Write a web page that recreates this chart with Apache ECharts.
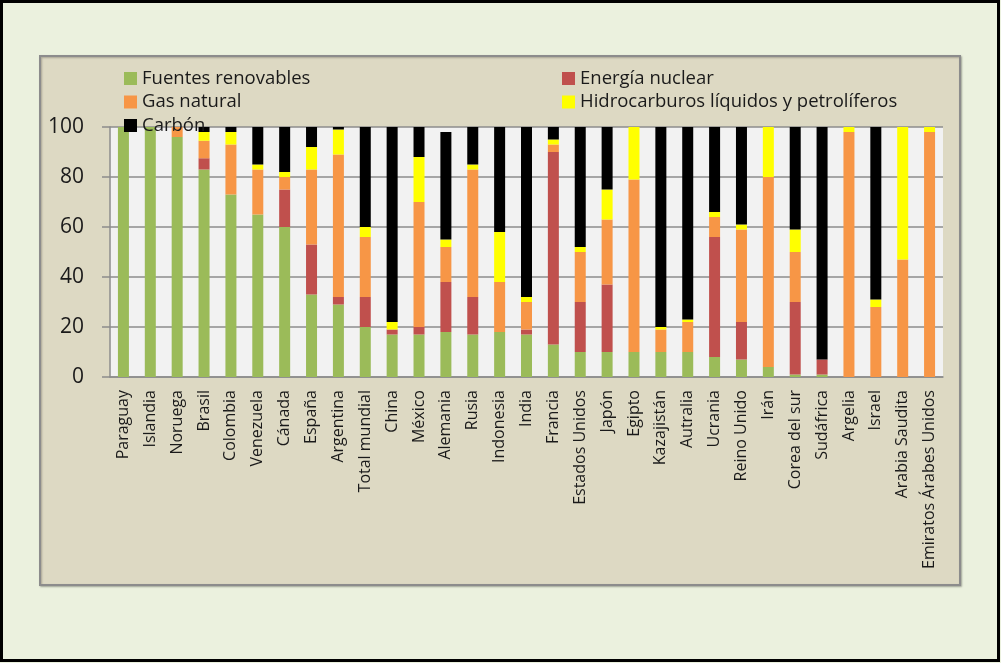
<!DOCTYPE html>
<html>
<head>
<meta charset="utf-8">
<script src="https://cdn.jsdelivr.net/npm/echarts@6/dist/echarts.min.js"></script>
<style>
  html, body { margin: 0; padding: 0; background: #ebf1de; }
  #chart { width: 1001px; height: 663px; }
</style>
</head>
<body>
<div id="chart"></div>
<script>
// categorías (países)
var paises = ['Paraguay','Islandia','Noruega','Brasil','Colombia','Venezuela','Cánada','España','Argentina','Total mundial',
  'China','México','Alemania','Rusia','Indonesia','India','Francia','Estados Unidos','Japón','Egipto',
  'Kazajistán','Autralia','Ucrania','Reino Unido','Irán','Corea del sur','Sudáfrica','Argelia','Israel','Arabia Saudita',
  'Emiratos Árabes Unidos'];
// participación (%) de cada fuente
var renovables = [100,100,96,83,73,65,60,33,29,20, 17,17,18,17,18,17,13,10,10,10, 10,10,8,7,4,1,1,0,0,0, 0];
var nuclear    = [0,0,0,4.5,0,0,15,20,3,12, 2,3,20,15,0,2,77,20,27,0, 0,0,48,15,0,29,6,0,0,0, 0];
var gas        = [0,0,4,7,20,18,5,30,57,24, 0,50,14,51,20,11,3,20,26,69, 9,12,8,37,76,20,0,98,28,47, 98];
var petroleo   = [0,0,0,3.5,5,2,2,9,10,4, 3,18,3,2,20,2,2,2,12,21, 1,1,2,2,20,9,0,2,3,53, 2];
var carbon     = [0,0,0,2,2,15,18,8,1,40, 78,12,43,15,42,68,5,48,25,0, 80,77,34,39,0,41,93,0,69,0, 0];
var yTicks = [0,20,40,60,80,100];

var myChart = echarts.init(document.getElementById('chart'));
var fuente = 'Open Sans, Liberation Sans, sans-serif';

function serie(nombre, datos, color) {
  return {
    name: nombre,
    type: 'bar',
    stack: 'total',
    barWidth: 11,
    itemStyle: { color: color },
    data: datos
  };
}

var leyendaTexto = { fontSize: 18.5, color: '#1a1a1a', fontFamily: fuente };

myChart.setOption({
  backgroundColor: '#ebf1de',
  animation: false,
  textStyle: { fontFamily: fuente },
  graphic: [
    { type: 'rect', z: -10, shape: { x: 1.5, y: 1.5, width: 997, height: 659 },
      style: { fill: '#ebf1de', stroke: '#000', lineWidth: 3 } },
    { type: 'rect', z: -9, shape: { x: 40, y: 56, width: 920, height: 529 },
      style: { fill: '#ddd9c3', stroke: '#8c8c8c', lineWidth: 2,
        shadowColor: 'rgba(0,0,0,0.25)', shadowOffsetX: 1, shadowOffsetY: 1, shadowBlur: 2 } }
  ],
  legend: [
    { left: 119, top: 64, orient: 'vertical', itemWidth: 13, itemHeight: 13, itemGap: 4.5,
      icon: 'rect', textStyle: leyendaTexto,
      data: ['Fuentes renovables','Gas natural','Carbón'] },
    { left: 557, top: 64, orient: 'vertical', itemWidth: 13, itemHeight: 13, itemGap: 4.5,
      icon: 'rect', textStyle: leyendaTexto,
      data: ['Energía nuclear','Hidrocarburos líquidos y petrolíferos'] }
  ],
  grid: { left: 110, right: 58, top: 127, bottom: 286, show: true, backgroundColor: '#f2f2f2', borderWidth: 0 },
  xAxis: {
    type: 'category',
    data: paises,
    axisLine: { lineStyle: { color: '#8c8c8c', width: 1.5 } },
    axisTick: { lineStyle: { color: '#8c8c8c', width: 1.5 }, length: 6 },
    axisLabel: { rotate: 90, interval: 0, margin: 13, fontSize: 16, color: '#1a1a1a', fontFamily: fuente }
  },
  yAxis: {
    type: 'value',
    min: yTicks[0],
    max: yTicks[yTicks.length - 1],
    interval: 20,
    axisLine: { show: true, lineStyle: { color: '#8c8c8c', width: 1.5 } },
    axisTick: { show: true, inside: false, length: 8, lineStyle: { color: '#8c8c8c', width: 1.5 } },
    splitLine: { lineStyle: { color: '#8c8c8c', width: 1.5 } },
    axisLabel: { margin: 26, fontSize: 21, color: '#1a1a1a', fontFamily: fuente }
  },
  series: [
    serie('Fuentes renovables', renovables, '#9bbb59'),
    serie('Energía nuclear', nuclear, '#c0504d'),
    serie('Gas natural', gas, '#f79646'),
    serie('Hidrocarburos líquidos y petrolíferos', petroleo, '#ffff00'),
    serie('Carbón', carbon, '#000000')
  ]
});
</script>
</body>
</html>
